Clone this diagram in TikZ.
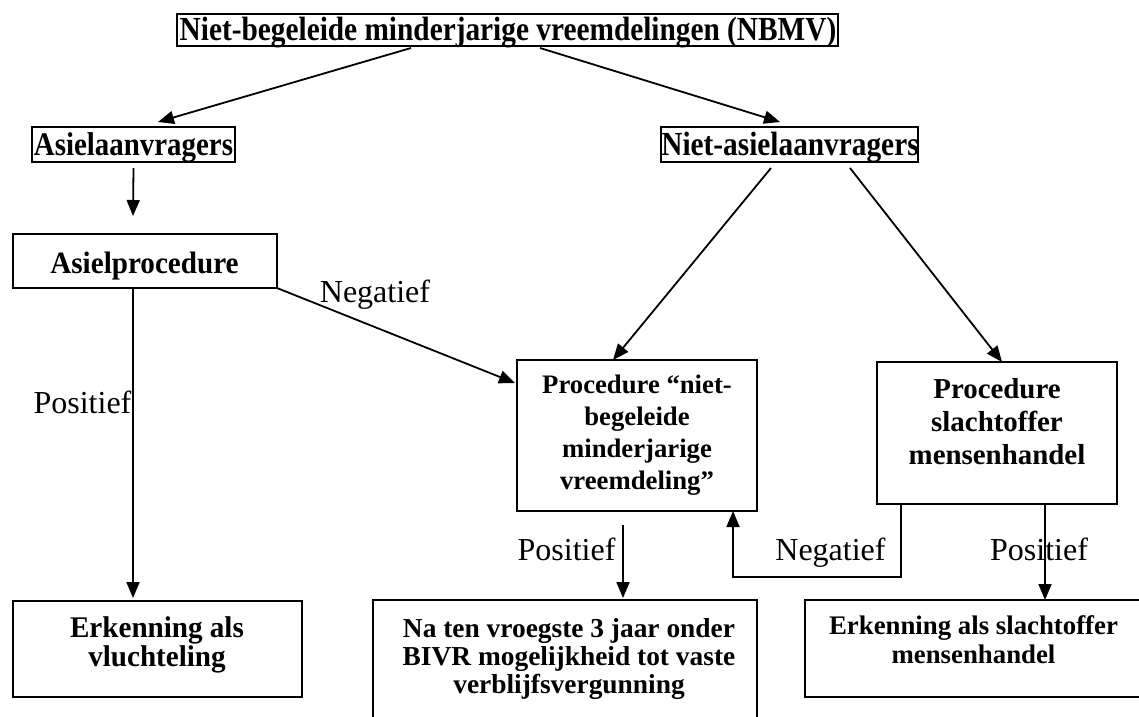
\documentclass[tikz,border=0pt]{standalone}
\usepackage{fontspec}
\setmainfont{Liberation Serif}
\usetikzlibrary{arrows.meta}
\newcommand\bt[3]{\fontsize{#1}{#2}\selectfont\bfseries\addfontfeatures{FakeStretch=#3}}
\begin{document}
\begin{tikzpicture}[x=1pt,y=-1pt,
  box/.style={draw, line width=2pt, inner sep=0pt, outer sep=0pt},
  txt/.style={inner sep=0pt, align=center},
  lab/.style={inner sep=0pt, font=\fontsize{32}{36}\selectfont, anchor=base},
  conn/.style={line width=1.8pt, -{Triangle[length=16pt,width=13pt]}}]
\useasboundingbox (0,0) rectangle (1139,716);

% boxes
\node[box, minimum width=661pt, minimum height=32pt] (top) at (507.5,30) {};
\node[box, minimum width=203pt, minimum height=35pt] (asiel) at (133.5,144.5) {};
\node[box, minimum width=257pt, minimum height=35pt] (niet) at (789.5,144.5) {};
\node[box, minimum width=264pt, minimum height=54pt] (asproc) at (145,261) {};
\node[box, minimum width=240pt, minimum height=151pt] (nbmv) at (637,435.5) {};
\node[box, minimum width=240pt, minimum height=142pt] (slacht) at (997,433) {};
\node[box, minimum width=289pt, minimum height=96pt] (vlucht) at (157.5,649) {};
\node[box, minimum width=384pt, minimum height=124pt] (bivr) at (565,662) {};
\node[box, minimum width=340pt, minimum height=97pt] (slerk) at (975,648.5) {};

% texts
\node[txt, anchor=base, font=\bt{33.7}{38}{0.87}] (topT) at (508,40) {Niet-begeleide minderjarige vreemdelingen (NBMV)};
\node[txt, anchor=base, font=\bt{33}{38}{0.876}] (asielT) at (133.5,155) {Asielaanvragers};
\node[txt, anchor=base, font=\bt{33.7}{38}{0.87}] (nietT) at (790,155) {Niet-asielaanvragers};
\node[txt, anchor=base, font=\bt{31}{33}{0.94}] (asprocT) at (144.5,273) {Asielprocedure};
\node[txt, font=\bt{26.7}{32}{1.0}] (nbmvT) at (637,435) {Procedure “niet-\\begeleide\\minderjarige\\vreemdeling”};
\node[txt, font=\bt{28.9}{33}{1.0}] (slachtT) at (997,422) {Procedure\\slachtoffer\\mensenhandel};
\node[txt, font=\bt{30}{29}{0.97}] (vluchtT) at (157,645) {Erkenning als\\vluchteling};
\node[txt, font=\bt{27.4}{28}{1.0}] (bivrT) at (569,659.5) {Na ten vroegste 3 jaar onder\\BIVR mogelijkheid tot vaste\\verblijfsvergunning};
\node[txt, font=\bt{26.8}{29}{1.0}] (slerkT) at (973.5,639.5) {Erkenning als slachtoffer\\mensenhandel};

% labels
\node[lab] (negL) at (375,302) {Negatief};
\node[lab] (posL) at (82.5,413) {Positief};
\node[lab] (posM) at (566.5,560) {Positief};
\node[lab] (negR) at (830.5,560) {Negatief};
\node[lab] (posR) at (1039,560) {Positief};

% connectors
\draw[conn] ([xshift=234pt,yshift=-2pt]top.south west) -- ([xshift=24.5pt,yshift=5pt]asiel.north);
\draw[conn] ([xshift=363pt,yshift=-2pt]top.south west) -- ([xshift=-9.5pt,yshift=5pt]niet.north);
\draw[conn] ([yshift=-6pt]asiel.south) -- ([xshift=-12pt,yshift=18pt]asproc.north);
\draw[conn] ([xshift=-12pt]asproc.south) -- ([xshift=-24.5pt,yshift=3pt]vlucht.north);
\draw[conn] (asproc.south east) -- ([xshift=-2pt,yshift=-23pt]nbmv.north west);
\draw[conn] ([xshift=-18.5pt,yshift=-6pt]niet.south) -- ([xshift=-24pt]nbmv.north);
\draw[conn] ([xshift=60.5pt,yshift=-6pt]niet.south) -- ([xshift=5pt]slacht.north);
\draw[conn] ([xshift=-14pt,yshift=-14pt]nbmv.south) -- ([xshift=58pt,yshift=2pt]bivr.north);
\draw[conn] ([xshift=48pt]slacht.south) -- ([xshift=70pt]slerk.north);
\draw[conn] ([xshift=24pt]slacht.south west) -- ++(0,73) -| ([xshift=96pt]nbmv.south);
\end{tikzpicture}
\end{document}
